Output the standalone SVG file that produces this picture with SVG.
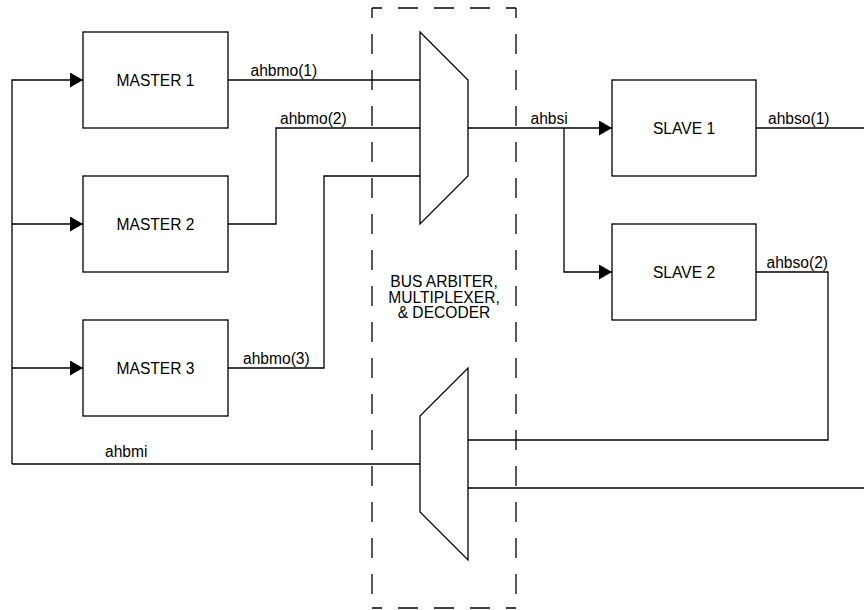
<svg xmlns="http://www.w3.org/2000/svg" width="864" height="610" viewBox="0 0 864 610">
<defs>
<marker id="arr" markerUnits="userSpaceOnUse" markerWidth="14" markerHeight="16" refX="13" refY="7.5" orient="auto">
<polygon points="0,0 13,7.5 0,15" fill="#000"/>
</marker>
<style>
.box{fill:#fff;stroke:#000;stroke-width:1.3}
.mux{fill:#fff;stroke:#000;stroke-width:1.3}
.w{fill:none;stroke:#000;stroke-width:1.3}
.dash{fill:none;stroke:#000;stroke-width:1.3;stroke-dasharray:20 16;stroke-dashoffset:10}
text{font-family:"Liberation Sans",Arial,sans-serif;font-size:15.6px;fill:#000}
.c{text-anchor:middle}
</style>
</defs>
<rect width="864" height="610" fill="#fff"/>
<g id="arbiter-region">
<path class="dash" d="M372,8 H516"/>
<path class="dash" d="M516,8 V608"/>
<path class="dash" d="M372,8 V608"/>
<path class="dash" d="M372,608 H516"/>
<text class="c" x="444" y="287">BUS ARBITER,</text>
<text class="c" x="444" y="302.5">MULTIPLEXER,</text>
<text class="c" x="444" y="318">&amp; DECODER</text>
</g>
<g id="connectors">
<path class="w" d="M12,464 V80 H83" marker-end="url(#arr)"/>
<path class="w" d="M12,224 H83" marker-end="url(#arr)"/>
<path class="w" d="M12,368 H83" marker-end="url(#arr)"/>
<path class="w" d="M12,464 H420"/>
<path class="w" d="M228,80 H420"/>
<path class="w" d="M228,224 H276 V128 H420"/>
<path class="w" d="M228,368 H324 V176 H420"/>
<path class="w" d="M468,128 H612" marker-end="url(#arr)"/>
<path class="w" d="M564,128 V272 H612" marker-end="url(#arr)"/>
<path class="w" d="M756,128 H864"/>
<path class="w" d="M756,272 H828 V440 H468"/>
<path class="w" d="M468,488 H864"/>
<text x="250.5" y="76">ahbmo(1)</text>
<text x="280" y="124">ahbmo(2)</text>
<text x="243" y="364">ahbmo(3)</text>
<text x="105" y="457">ahbmi</text>
<text x="530.5" y="124">ahbsi</text>
<text x="768" y="124">ahbso(1)</text>
<text x="766.5" y="268">ahbso(2)</text>
</g>
<g id="master1">
<rect class="box" x="83" y="32" width="145" height="96"/>
<text class="c" x="155.5" y="85.5">MASTER 1</text>
</g>
<g id="master2">
<rect class="box" x="83" y="176" width="145" height="96"/>
<text class="c" x="155.5" y="229.5">MASTER 2</text>
</g>
<g id="master3">
<rect class="box" x="83" y="320" width="145" height="96"/>
<text class="c" x="155.5" y="373.5">MASTER 3</text>
</g>
<g id="mux-top">
<polygon class="mux" points="420,32 468,80 468,176 420,224"/>
</g>
<g id="mux-bottom">
<polygon class="mux" points="420,416 468,368 468,560 420,512"/>
</g>
<g id="slave1">
<rect class="box" x="612" y="80" width="144" height="96"/>
<text class="c" x="684" y="133.5">SLAVE 1</text>
</g>
<g id="slave2">
<rect class="box" x="612" y="224" width="144" height="96"/>
<text class="c" x="684" y="277.5">SLAVE 2</text>
</g>
</svg>
